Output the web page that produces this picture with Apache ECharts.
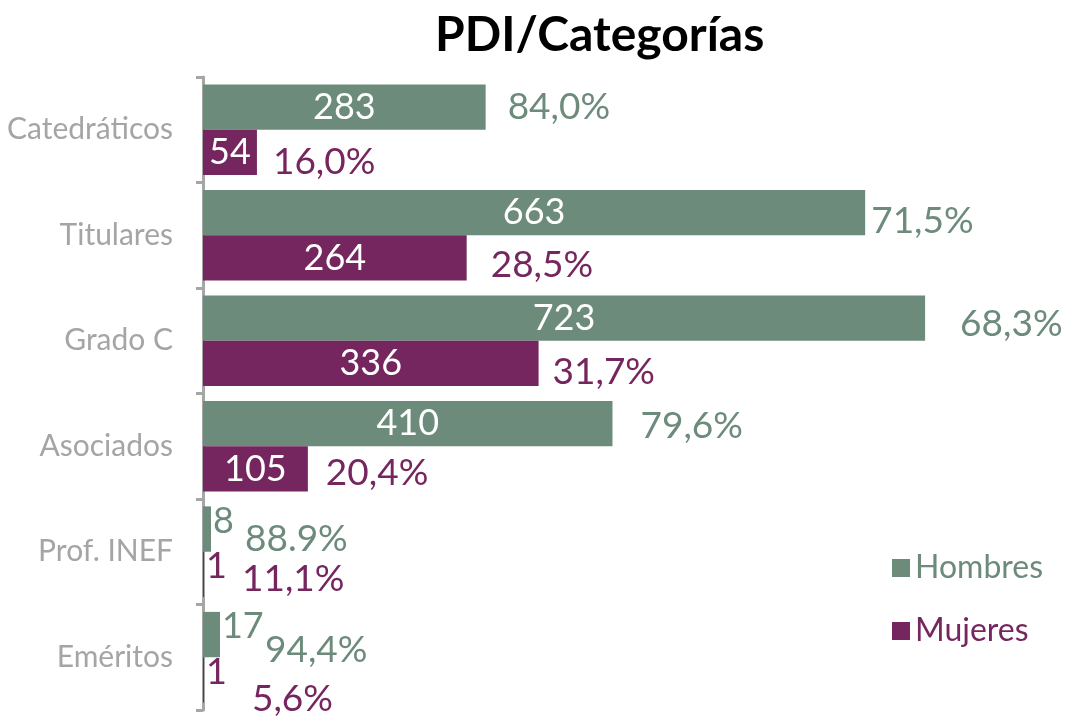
<!DOCTYPE html>
<html>
<head>
<meta charset="utf-8">
<script src="https://cdn.jsdelivr.net/npm/echarts@6/dist/echarts.min.js"></script>
<style>
  html, body { margin: 0; padding: 0; background: #fff; }
  #chart { width: 1070px; height: 718px; }
</style>
</head>
<body>
<div id="chart"></div>
<script>
// datos
const categorias = ['Catedráticos', 'Titulares', 'Grado C', 'Asociados', 'Prof. INEF', 'Eméritos'];
const hombres = [283, 663, 723, 410, 8, 17];
const mujeres = [54, 264, 336, 105, 1, 1];
const pctHombres = ['84,0%', '71,5%', '68,3%', '79,6%', '88.9%', '94,4%'];
const pctMujeres = ['16,0%', '28,5%', '31,7%', '20,4%', '11,1%', '5,6%'];

// desplazamiento de las etiquetas de porcentaje [dx, dy], como en el original
const ajusteH = [[22, 0], [6, 8], [35, 6], [28, 2], [34, 10], [45, 15]];
const ajusteM = [[16, 10], [24, 7], [14, 9], [18, 4], [38, 5], [48, 19]];

const VERDE = '#6c8b7b';
const MORADO = '#76265f';
const FONT = 'Lato';

function valores(arr, color) {
    return arr.map(v => {
        if (v >= 20) return v;
        // barras muy cortas: etiqueta fuera
        return {
            value: v,
            label: { position: 'right', distance: 2, offset: [0, -8], color: color }
        };
    });
}

function porcentajes(arr, pct, ajuste, color) {
    return arr.map((v, i) => ({
        value: v,
        label: {
            show: true,
            position: 'right',
            distance: ajuste[i][0],
            offset: [0, ajuste[i][1]],
            formatter: pct[i],
            color: color,
            fontSize: 37,
            fontFamily: FONT
        }
    }));
}

const chart = echarts.init(document.getElementById('chart'));

const option = {
    animation: false,
    title: {
        text: 'PDI/Categorías',
        left: 430,
        top: 7,
        textStyle: { fontFamily: FONT, fontWeight: 'bold', fontSize: 48, color: '#000' }
    },
    legend: {
        orient: 'vertical',
        left: 887,
        top: 547,
        itemWidth: 18,
        itemHeight: 18,
        itemGap: 31,
        icon: 'rect',
        textStyle: { fontFamily: FONT, fontSize: 32 },
        data: [
            { name: 'Hombres', textStyle: { color: VERDE } },
            { name: 'Mujeres', textStyle: { color: MORADO } }
        ]
    },
    grid: { left: 203, right: 68, top: 77, bottom: 8 },
    xAxis: { type: 'value', min: 0, max: 800, show: false },
    yAxis: [
        {
            type: 'category',
            inverse: true,
            data: categorias,
            axisLine: { show: true, lineStyle: { color: '#a6a6a6', width: 3 } },
            axisTick: { show: true, length: 7, lineStyle: { color: '#a6a6a6', width: 3 } },
            axisLabel: { color: '#a5a5a5', fontSize: 30, fontFamily: FONT, margin: 30 }
        },
        { type: 'category', inverse: true, data: categorias, show: false }
    ],
    series: [
        {
            name: 'Hombres', type: 'bar', barGap: 0, barCategoryGap: '14%',
            itemStyle: { color: VERDE },
            label: { show: true, position: 'inside', color: '#fff', fontSize: 36, fontFamily: FONT },
            data: valores(hombres, VERDE)
        },
        {
            name: 'Mujeres', type: 'bar', barGap: 0, barCategoryGap: '14%',
            itemStyle: { color: MORADO },
            label: { show: true, position: 'inside', color: '#fff', fontSize: 36, fontFamily: FONT },
            data: valores(mujeres, MORADO)
        },
        {
            name: 'pctH', type: 'bar', yAxisIndex: 1, barGap: 0, barCategoryGap: '14%',
            silent: true, itemStyle: { color: 'rgba(0,0,0,0)' },
            data: porcentajes(hombres, pctHombres, ajusteH, VERDE)
        },
        {
            name: 'pctM', type: 'bar', yAxisIndex: 1, barGap: 0, barCategoryGap: '14%',
            silent: true, itemStyle: { color: 'rgba(0,0,0,0)' },
            data: porcentajes(mujeres, pctMujeres, ajusteM, MORADO)
        }
    ]
};

chart.setOption(option);
window.addEventListener('resize', function () {
    chart.resize();
});
</script>
</body>
</html>
